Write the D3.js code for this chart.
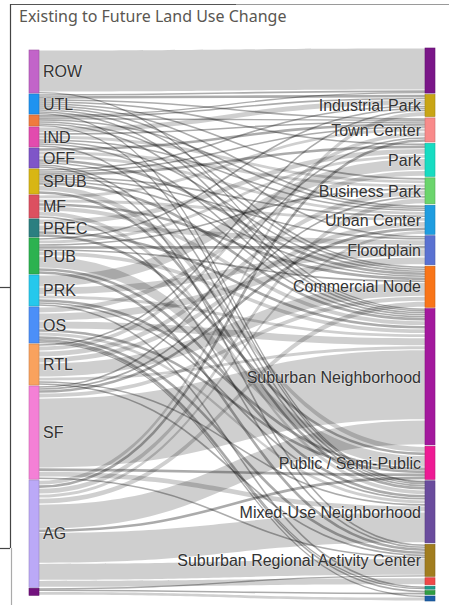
<!DOCTYPE html>
<html>
<head>
<meta charset="utf-8">
<script src="https://cdn.jsdelivr.net/npm/d3@7"></script>
<style>
  html, body { margin: 0; padding: 0; background: #fff; }
  svg { display: block; }
</style>
</head>
<body>
<svg id="chart" width="449" height="605"></svg>
<script>
// ---------------- DATA ----------------
const chartTitle = "Existing to Future Land Use Change";

// Existing (left) nodes, top to bottom
const sourceIds    = ["ROW","UTL","UTL2","IND","OFF","SPUB","MF","PREC","PUB","PRK","OS","RTL","SF","AG","OTH"];
const sourceLabels = ["ROW","UTL","","IND","OFF","SPUB","MF","PREC","PUB","PRK","OS","RTL","SF","AG",""];

// Future (right) nodes, top to bottom
const targetIds = ["ROWF","IP","TC","PARK","BP","UC","FP","CN","SN","PSP","MUN","SRAC","R1","R2","R3","R4"];
const targetLabels = ["","Industrial Park","Town Center","Park","Business Park","Urban Center","Floodplain",
  "Commercial Node","Suburban Neighborhood","Public / Semi-Public","Mixed-Use Neighborhood",
  "Suburban Regional Activity Center","","","",""];

// Flows (existing -> future), estimated acreage units
const linkSource = [
  "ROW","ROW",
  "UTL","UTL","UTL","UTL","UTL","UTL","UTL","UTL","UTL","UTL",
  "UTL2","UTL2","UTL2","UTL2","UTL2","UTL2","UTL2",
  "IND","IND","IND","IND","IND","IND","IND",
  "OFF","OFF","OFF","OFF","OFF","OFF","OFF",
  "SPUB","SPUB","SPUB","SPUB","SPUB","SPUB","SPUB","SPUB","SPUB",
  "MF","MF","MF","MF","MF","MF",
  "PREC","PREC","PREC","PREC",
  "PUB","PUB","PUB","PUB","PUB","PUB","PUB","PUB","PUB",
  "PRK","PRK","PRK","PRK","PRK","PRK",
  "OS","OS","OS","OS","OS","OS","OS","OS","OS",
  "RTL","RTL","RTL","RTL","RTL","RTL","RTL","RTL",
  "SF","SF","SF","SF","SF","SF","SF","SF",
  "AG","AG","AG","AG","AG","AG","AG","AG","AG","AG",
  "OTH","OTH","OTH"
];
const linkTarget = [
  "ROWF","SN",
  "ROWF","IP","TC","PARK","BP","UC","FP","CN","SN","MUN",
  "ROWF","IP","TC","UC","CN","SN","MUN",
  "IP","TC","BP","UC","CN","SN","MUN",
  "TC","BP","UC","CN","SN","MUN","SRAC",
  "IP","TC","PARK","UC","FP","CN","SN","PSP","MUN",
  "TC","UC","CN","SN","MUN","SRAC",
  "PARK","FP","SN","PSP",
  "IP","PARK","BP","FP","CN","SN","PSP","MUN","SRAC",
  "PARK","FP","SN","PSP","MUN","R2",
  "PARK","FP","SN","PSP","MUN","SRAC","R3","R2","R4",
  "IP","TC","BP","UC","CN","SN","MUN","SRAC",
  "TC","BP","UC","CN","SN","PSP","MUN","SRAC",
  "IP","TC","BP","UC","CN","SN","PSP","MUN","SRAC","R1",
  "R4","R3","SRAC"
];
const linkValue = [
  42,1,
  2,3,2,2,2,2,2,2,2,1,
  1,2,1,2,2,2,1,
  6,2,4,2,2,2,2,
  3,4,4,3,2,2,2,
  2,2,3,2,2,2,3,6,3,
  4,4,3,5,5,2,
  6,6,3,3,
  2,4,2,3,2,5,12,3,3,
  12,8,4,3,2,2,
  6,8,8,3,4,3,2,1,1,
  2,5,6,6,14,4,2,2,
  2,2,3,5,70,3,6,2,
  5,3,6,4,6,25,3,31,17,7,
  4,2,1
];

// ---------------- STYLE ----------------
const nodeColor = {
  ROW:"#c264c9", UTL:"#1f93f0", UTL2:"#ef7b3e", IND:"#e24bae", OFF:"#7f55c8", SPUB:"#d8b614",
  MF:"#dc5060", PREC:"#2b7f80", PUB:"#2cb250", PRK:"#25c8ec", OS:"#4c8ff8", RTL:"#f9a25e",
  SF:"#f480d6", AG:"#bba9f7", OTH:"#73127e",
  ROWF:"#7a1688", IP:"#c9a515", TC:"#f98b8b", PARK:"#17dcc2", BP:"#6bd56c", UC:"#1f9de0",
  FP:"#5a72d2", CN:"#f97518", SN:"#a3189d", PSP:"#ee1a94", MUN:"#6a4c9d", SRAC:"#a17d1e",
  R1:"#f04848", R2:"#1a9a8a", R3:"#2f9e42", R4:"#1d5fa8"
};

// ---------------- LAYOUT ----------------
const svg = d3.select("#chart");
const nodeW = 10;
const leftX = 29, rightX = 425;
const yTopL = 50, yTopR = 48, yBotR = 601;
const padL = 0.95, padR = 1.4;

const total = d3.sum(linkValue);
const kyPx = (yBotR - yTopR - (targetIds.length - 1) * padR);
const hScale = d3.scaleLinear().domain([0, total]).range([0, kyPx]);

const links = linkSource.map((s, i) => ({ source: s, target: linkTarget[i], value: linkValue[i] }));

function buildNodes(ids, labels, x, y0, pad, key) {
  let y = y0;
  return ids.map((id, i) => {
    const v = d3.sum(links.filter(l => l[key] === id), l => l.value);
    const h = hScale(v);
    const n = { id, label: labels[i], index: i, value: v, x0: x, x1: x + nodeW, y0: y, y1: y + h };
    y += h + pad;
    return n;
  });
}
const srcNodes = buildNodes(sourceIds, sourceLabels, leftX, yTopL, padL, "source");
const tgtNodes = buildNodes(targetIds, targetLabels, rightX, yTopR, padR, "target");
const srcMap = new Map(srcNodes.map(n => [n.id, n]));
const tgtMap = new Map(tgtNodes.map(n => [n.id, n]));
links.forEach(l => { l.s = srcMap.get(l.source); l.t = tgtMap.get(l.target); l.w = hScale(l.value); });

srcNodes.forEach(n => {
  let y = n.y0;
  links.filter(l => l.s === n).sort((a, b) => a.t.index - b.t.index)
    .forEach(l => { l.sy0 = y; l.sy1 = y + l.w; y += l.w; });
});
tgtNodes.forEach(n => {
  let y = n.y0;
  links.filter(l => l.t === n).sort((a, b) => a.s.index - b.s.index)
    .forEach(l => { l.ty0 = y; l.ty1 = y + l.w; y += l.w; });
});

// ---------------- FRAME ----------------
const frame = svg.append("g");
frame.append("line").attr("x1", 10).attr("x2", 449).attr("y1", 4.5).attr("y2", 4.5)
  .attr("stroke", "#9a9a9a").attr("stroke-width", 1.2);
frame.append("line").attr("x1", 10).attr("x2", 236).attr("y1", 4.5).attr("y2", 4.5)
  .attr("stroke", "#555").attr("stroke-width", 1.2);
frame.append("line").attr("x1", 10.5).attr("x2", 10.5).attr("y1", 4).attr("y2", 548)
  .attr("stroke", "#444").attr("stroke-width", 1.2);
frame.append("line").attr("x1", 11.5).attr("x2", 11.5).attr("y1", 548).attr("y2", 605)
  .attr("stroke", "#aaa").attr("stroke-width", 1.2);
frame.append("line").attr("x1", 0).attr("x2", 10).attr("y1", 548.5).attr("y2", 548.5)
  .attr("stroke", "#444").attr("stroke-width", 1.2);
frame.append("line").attr("x1", 0).attr("x2", 10).attr("y1", 287.5).attr("y2", 287.5)
  .attr("stroke", "#444").attr("stroke-width", 1.2);

// ---------------- TITLE ----------------
svg.append("text")
  .attr("x", 19).attr("y", 22)
  .attr("font-family", "'Noto Sans', 'Open Sans', sans-serif")
  .attr("font-size", 16)
  .attr("fill", "#5a5752")
  .text(chartTitle);

// ---------------- LINKS ----------------
const gLinks = svg.append("g");
const wide = links.filter(l => l.w >= 3.5);
const thin = links.filter(l => l.w < 3.5);

function ribbon(l) {
  const x0 = l.s.x1, x1 = l.t.x0, xm = (x0 + x1) / 2;
  const g = 0.6;
  const a0 = l.sy0 + g, a1 = l.sy1 - g, b0 = l.ty0 + g, b1 = l.ty1 - g;
  const p = d3.path();
  p.moveTo(x0, a0);
  p.bezierCurveTo(xm, a0, xm, b0, x1, b0);
  p.lineTo(x1, b1);
  p.bezierCurveTo(xm, b1, xm, a1, x0, a1);
  p.closePath();
  return p.toString();
}
gLinks.selectAll("path.wide").data(wide).join("path")
  .attr("class", "wide")
  .attr("d", ribbon)
  .attr("fill", "#000")
  .attr("fill-opacity", 0.19);

const lh = d3.linkHorizontal();
gLinks.selectAll("path.thin").data(thin).join("path")
  .attr("class", "thin")
  .attr("d", l => lh({ source: [l.s.x1, (l.sy0 + l.sy1) / 2], target: [l.t.x0, (l.ty0 + l.ty1) / 2] }))
  .attr("fill", "none")
  .attr("stroke", "#000")
  .attr("stroke-opacity", 0.33)
  .attr("stroke-width", l => Math.max(1.3, l.w - 0.4));

// ---------------- NODES ----------------
const gNodes = svg.append("g");
const allNodes = srcNodes.concat(tgtNodes);
gNodes.selectAll("rect").data(allNodes).join("rect")
  .attr("x", d => d.x0).attr("y", d => d.y0)
  .attr("width", nodeW).attr("height", d => Math.max(1, d.y1 - d.y0))
  .attr("fill", d => nodeColor[d.id])
  .attr("stroke", d => d3.color(nodeColor[d.id]).darker(0.6))
  .attr("stroke-width", 0.6);

// ---------------- LABELS ----------------
const labelFont = "'Liberation Sans', Arial, sans-serif";
svg.append("g").selectAll("text").data(srcNodes.filter(d => d.label)).join("text")
  .attr("x", d => d.x1 + 4).attr("y", d => (d.y0 + d.y1) / 2)
  .attr("dy", "0.36em")
  .attr("font-family", labelFont).attr("font-size", 16)
  .attr("fill", "#333")
  .attr("stroke", "#fff").attr("stroke-opacity", 0.35).attr("stroke-width", 1.5)
  .attr("paint-order", "stroke")
  .text(d => d.label);
svg.append("g").selectAll("text").data(tgtNodes.filter(d => d.label)).join("text")
  .attr("x", d => d.x0 - 4).attr("y", d => (d.y0 + d.y1) / 2)
  .attr("dy", "0.36em")
  .attr("text-anchor", "end")
  .attr("font-family", labelFont).attr("font-size", 16)
  .attr("fill", "#333")
  .attr("stroke", "#fff").attr("stroke-opacity", 0.35).attr("stroke-width", 1.5)
  .attr("paint-order", "stroke")
  .text(d => d.label);
</script>
</body>
</html>
